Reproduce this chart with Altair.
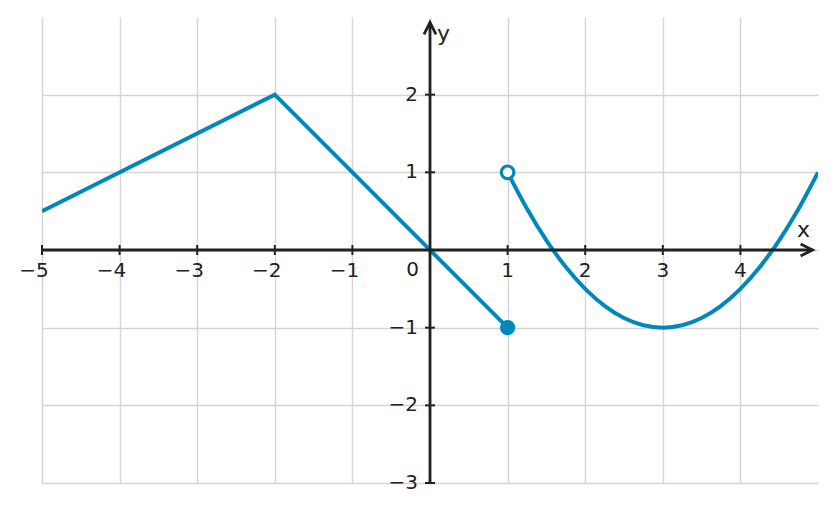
import altair as alt
import pandas as pd

# piecewise linear part
lin_x = [-5, -2, 1]
lin_y = [0.5, 2, -1]

# parabola part
par_x = [1, 1.25, 1.5, 1.75, 2, 2.25, 2.5, 2.75, 3, 3.25, 3.5, 3.75, 4, 4.25, 4.5, 4.75, 5]
par_y = [1, 0.53125, 0.125, -0.21875, -0.5, -0.71875, -0.875, -0.96875, -1,
         -0.96875, -0.875, -0.71875, -0.5, -0.21875, 0.125, 0.53125, 1]

closed_pt = {"x": [1], "y": [-1]}
open_pt = {"x": [1], "y": [1]}

x_ticks = [-5, -4, -3, -2, -1, 1, 2, 3, 4]
y_ticks = [-3, -2, -1, 1, 2]
x_grid = [-5, -4, -3, -2, -1, 0, 1, 2, 3, 4]
y_grid = [-3, -2, -1, 0, 1, 2]

x_min, x_max = -5, 5
y_min, y_max = -3, 3
x_tip = 4.93
y_tip = 2.93

AX = "#222222"
BLUE = "#0088bb"
GRID = "#d4d4d4"
FONT = "DejaVu Sans"
TICK_FS = 20
NAME_FS = 22

x_enc = alt.X("x:Q", scale=alt.Scale(domain=[x_min, x_max], nice=False, zero=False),
              axis=alt.Axis(values=x_grid, grid=True, labels=False, ticks=False, domain=False,
                            title=None, gridColor=GRID, gridWidth=1.4))
y_enc = alt.Y("y:Q", scale=alt.Scale(domain=[y_min, y_max], nice=False, zero=False),
              axis=alt.Axis(values=y_grid, grid=True, labels=False, ticks=False, domain=False,
                            title=None, gridColor=GRID, gridWidth=1.4))

lin_df = pd.DataFrame({"x": lin_x, "y": lin_y})
par_df = pd.DataFrame({"x": par_x, "y": par_y})

lin = alt.Chart(lin_df).mark_line(color=BLUE, strokeWidth=4, clip=True).encode(x=x_enc, y=y_enc)
par = alt.Chart(par_df).mark_line(color=BLUE, strokeWidth=4, interpolate="monotone", clip=True).encode(x=x_enc, y=y_enc)

# axis lines
xaxis_df = pd.DataFrame({"x": [x_min], "x2": [x_tip], "y": [0]})
yaxis_df = pd.DataFrame({"x": [0], "y": [y_min], "y2": [y_tip]})
xaxis = alt.Chart(xaxis_df).mark_rule(color=AX, strokeWidth=2.8).encode(x=x_enc, x2="x2:Q", y=y_enc)
yaxis = alt.Chart(yaxis_df).mark_rule(color=AX, strokeWidth=2.8).encode(x=x_enc, y=y_enc, y2="y2:Q")

chevron = "M-0.5,0.5L0,-0.5L0.5,0.5"
xarrow = alt.Chart(pd.DataFrame({"x": [x_tip], "y": [0]})).mark_point(
    shape=chevron, size=576, filled=False, stroke=AX, strokeWidth=2.8, angle=90,
    xOffset=-6, opacity=1).encode(x=x_enc, y=y_enc)
yarrow = alt.Chart(pd.DataFrame({"x": [0], "y": [y_tip]})).mark_point(
    shape=chevron, size=576, filled=False, stroke=AX, strokeWidth=2.8,
    yOffset=6, opacity=1).encode(x=x_enc, y=y_enc)

# ticks
xt_df = pd.DataFrame({"x": x_ticks, "y": [0] * len(x_ticks)})
yt_df = pd.DataFrame({"x": [0] * len(y_ticks), "y": y_ticks})
xticks = alt.Chart(xt_df).mark_tick(color=AX, size=10, thickness=2, orient="vertical", opacity=1).encode(x=x_enc, y=y_enc)
yticks = alt.Chart(yt_df).mark_tick(color=AX, size=10, thickness=2, orient="horizontal", opacity=1).encode(x=x_enc, y=y_enc)

# tick labels (digit centred on the tick, minus sign hanging to the left)
xt_df["label"] = [("\u2212" + str(-v)) if v < 0 else str(v) for v in x_ticks]
yt_df["label"] = [("\u2212" + str(-v)) if v < 0 else str(v) for v in y_ticks]
xlabels_neg = alt.Chart(xt_df).transform_filter("datum.x < 0").mark_text(
    font=FONT, fontSize=TICK_FS, color=AX, align="center", baseline="alphabetic", dx=-8, dy=27
).encode(x=x_enc, y=y_enc, text="label:N")
xlabels_pos = alt.Chart(xt_df).transform_filter("datum.x > 0").mark_text(
    font=FONT, fontSize=TICK_FS, color=AX, align="center", baseline="alphabetic", dy=27
).encode(x=x_enc, y=y_enc, text="label:N")
ylabels = alt.Chart(yt_df).mark_text(font=FONT, fontSize=TICK_FS, color=AX, align="right",
                                     baseline="alphabetic", dx=-12, dy=6).encode(x=x_enc, y=y_enc, text="label:N")
zero_lab = alt.Chart(pd.DataFrame({"x": [0], "y": [0], "label": ["0"]})).mark_text(
    font=FONT, fontSize=TICK_FS, color=AX, align="right", baseline="alphabetic", dx=-11, dy=26
).encode(x=x_enc, y=y_enc, text="label:N")

xname = alt.Chart(pd.DataFrame({"x": [x_max], "y": [0], "label": ["x"]})).mark_text(
    font=FONT, fontSize=NAME_FS, color=AX, align="right", baseline="alphabetic", dx=-8, dy=-13
).encode(x=x_enc, y=y_enc, text="label:N")
yname = alt.Chart(pd.DataFrame({"x": [0], "y": [y_max], "label": ["y"]})).mark_text(
    font=FONT, fontSize=NAME_FS, color=AX, align="left", baseline="alphabetic", dx=7, dy=24
).encode(x=x_enc, y=y_enc, text="label:N")

closed = alt.Chart(pd.DataFrame(closed_pt)).mark_point(
    shape="circle", size=230, filled=True, color=BLUE, opacity=1).encode(x=x_enc, y=y_enc)
opened = alt.Chart(pd.DataFrame(open_pt)).mark_point(
    shape="circle", size=160, filled=True, fill="white", stroke=BLUE, strokeWidth=3.2, opacity=1
).encode(x=x_enc, y=y_enc)

chart = alt.layer(
    lin, par, xaxis, yaxis, xarrow, yarrow, xticks, yticks,
    xlabels_neg, xlabels_pos, ylabels, zero_lab, xname, yname, closed, opened
).properties(
    width=776, height=466,
    autosize=alt.AutoSizeParams(type="none"),
    padding={"left": 34, "top": 9, "right": 11, "bottom": 21},
).configure_view(stroke=None)

chart.save("out.html", embed_options={"renderer": "svg", "actions": False})
